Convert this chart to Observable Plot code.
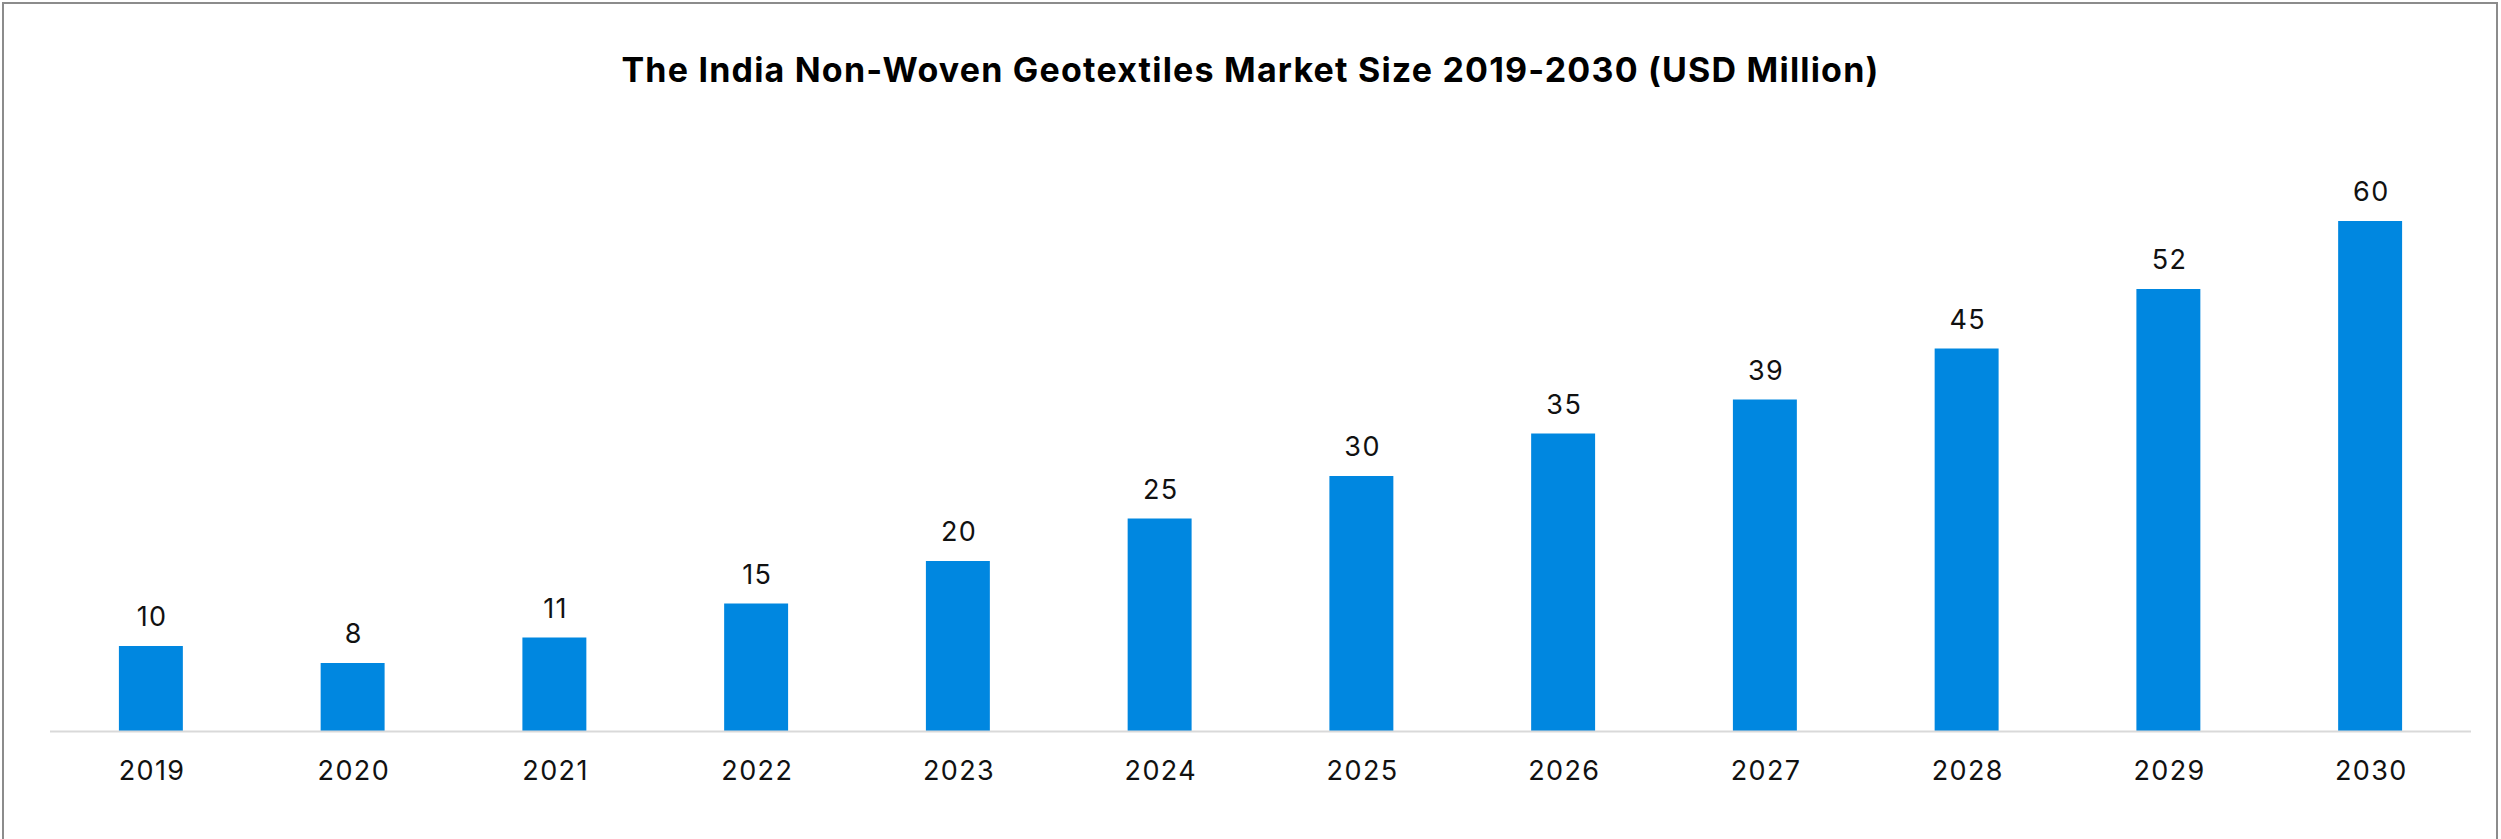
<!DOCTYPE html>
<html>
<head>
<meta charset="utf-8">
<script src="https://cdn.jsdelivr.net/npm/d3@7"></script>
<script src="https://cdn.jsdelivr.net/npm/@observablehq/plot@0.6"></script>
<style>
  html, body { margin: 0; padding: 0; background: #fff; }
  #wrap { position: relative; width: 2501px; height: 839px; overflow: hidden; background: #fff; font-family: Inter, "Noto Sans", sans-serif; }
  #frame { position: absolute; left: 2px; top: 2px; width: 2492px; height: 900px; border: 2px solid #8c8c8c; pointer-events: none; }
  #title { height: 130px; box-sizing: border-box; padding-top: 53px; text-align: center; font-size: 34px; line-height: 1; font-weight: 700; color: #000; letter-spacing: 1.2px; }
  #chart svg { display: block; }
  #chart svg text { letter-spacing: 1.4px; }
</style>
</head>
<body>
<div id="wrap">
  <div id="title">The India Non-Woven Geotextiles Market Size 2019-2030 (USD Million)</div>
  <div id="chart"></div>
  <div id="frame"></div>
</div>
<script>
const years = ["2019","2020","2021","2022","2023","2024","2025","2026","2027","2028","2029","2030"];
const values = [10, 8, 11, 15, 20, 25, 30, 35, 39, 45, 52, 60];

const data = years.map((y, i) => ({year: y, value: values[i]}));

const chart = Plot.plot({
  width: 2501,
  height: 709,
  marginTop: 91,
  marginBottom: 108,
  marginLeft: 50,
  marginRight: 30,
  style: {fontFamily: "Inter, 'Noto Sans', sans-serif", background: "#fff", color: "#000"},
  x: {domain: years, paddingInner: 0.683, paddingOuter: 0.3415, round: false, label: null},
  y: {domain: [0, 60], axis: null},
  marks: [
    Plot.barY(data, {x: "year", y: "value", fill: "#0087e0"}),
    Plot.ruleY([0], {stroke: "#d9d9d9", strokeWidth: 2}),
    Plot.text(data, {x: "year", y: "value", text: d => String(d.value), dy: -29, dx: 0.7, fontSize: 27, fill: "#111"}),
    Plot.axisX({tickSize: 0, tickPadding: 29, fontSize: 27, label: null, fill: "#111", dx: 0.7})
  ]
});
document.getElementById("chart").appendChild(chart);
</script>
</body>
</html>
